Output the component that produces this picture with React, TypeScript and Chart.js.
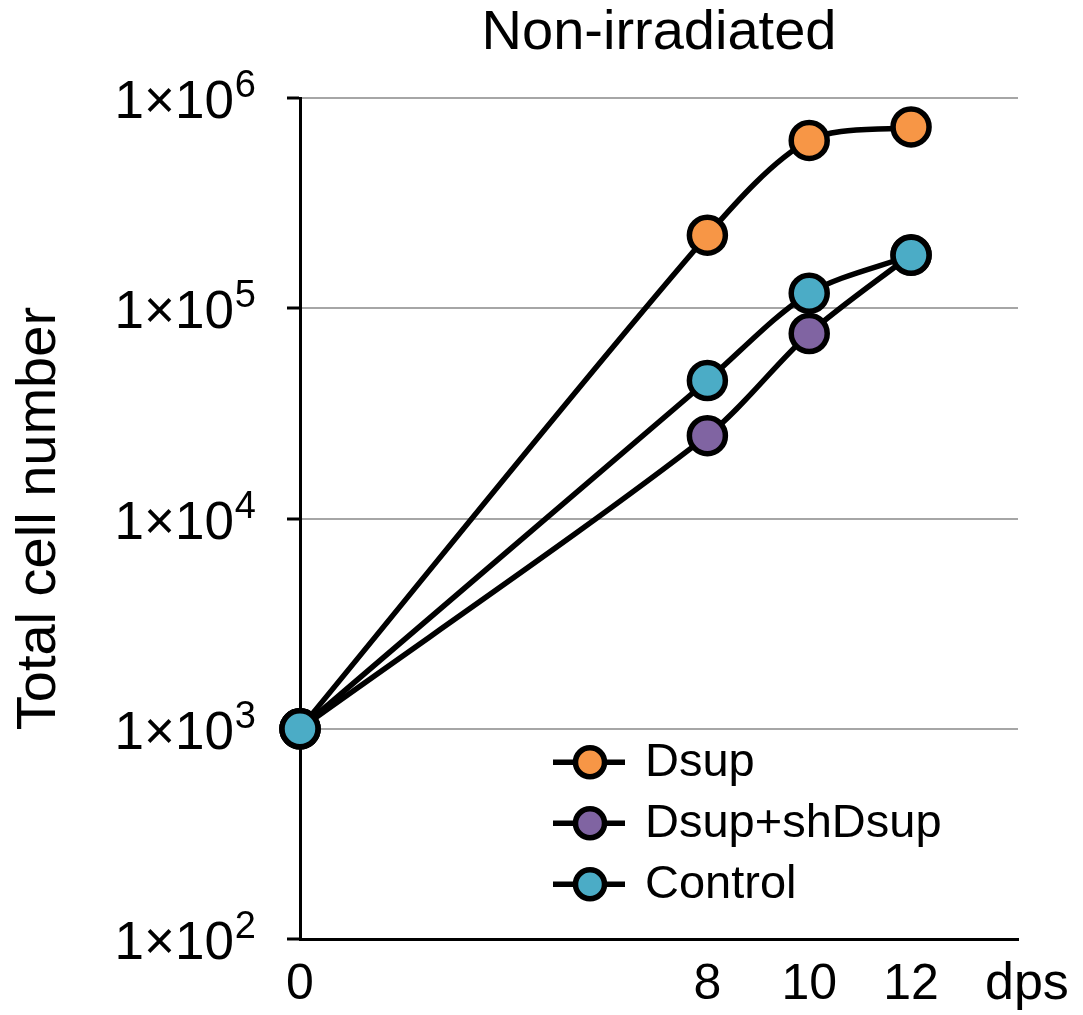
import React, { useEffect, useRef } from "react";
import { Chart, registerables } from "chart.js";

Chart.register(...registerables);

const days = [0, 8, 10, 12];
const xTickValues = [0, 8, 10, 12];
const yTickValues = [100, 1000, 10000, 100000, 1000000];
const seriesNames = ["Dsup", "Dsup+shDsup", "Control"];
const dsupValues = [1000, 223000, 630000, 730000];
const shDsupValues = [1000, 24800, 76000, 180000];
const controlValues = [1000, 45400, 118000, 179000];
const seriesColors = ["#F79646", "#8064A2", "#4BACC6"];
const titleText = "Non-irradiated";
const yTitleText = "Total cell number";
const xUnitText = "dps";

const FONT = "'Liberation Sans', Arial, Helvetica, sans-serif";

const extrasPlugin = {
  id: "extras",
  afterDraw(chart: any) {
    const ctx = chart.ctx;
    const xs = chart.scales.x;
    const ys = chart.scales.y;
    const area = chart.chartArea;
    ctx.save();
    ctx.fillStyle = "#000";

    // y tick labels: 1×10 with superscript exponent
    ys.ticks.forEach((t: any) => {
      const py = ys.getPixelForValue(t.value);
      const exp = String(Math.round(Math.log10(t.value)));
      ctx.font = `38px ${FONT}`;
      ctx.textAlign = "right";
      ctx.textBaseline = "alphabetic";
      const expRight = area.left - 44;
      ctx.fillText(exp, expRight, py - 1);
      const ew = ctx.measureText(exp).width;
      ctx.font = `53px ${FONT}`;
      ctx.fillText("1×10", expRight - ew - 1, py + 20);
    });

    // unit label on the x tick row
    ctx.font = `52px ${FONT}`;
    ctx.textAlign = "left";
    ctx.textBaseline = "middle";
    ctx.fillText(xUnitText, xs.right - 33, xs.top + 16 + 30);

    // legend
    const legendLeft = area.left + 253;
    const legendTop = area.top + 664;
    const rowGap = 61;
    [0, 1, 2].forEach((i) => {
      const y = legendTop + i * rowGap;
      ctx.strokeStyle = "#000";
      ctx.lineWidth = 5.5;
      ctx.beginPath();
      ctx.moveTo(legendLeft, y);
      ctx.lineTo(legendLeft + 72, y);
      ctx.stroke();
      ctx.beginPath();
      ctx.arc(legendLeft + 37, y, 14.5, 0, Math.PI * 2);
      ctx.fillStyle = seriesColors[i];
      ctx.fill();
      ctx.stroke();
      ctx.fillStyle = "#000";
      ctx.font = `47px ${FONT}`;
      ctx.textAlign = "left";
      ctx.textBaseline = "middle";
      ctx.fillText(seriesNames[i], legendLeft + 92, y + 1);
    });
    ctx.restore();
  },
};

export default function App() {
  const ref = useRef<HTMLCanvasElement | null>(null);
  useEffect(() => {
    if (!ref.current) return;
    const valuesList = [dsupValues, shDsupValues, controlValues];
    const orders = [1, 2, 0];
    const chart = new Chart(ref.current, {
      type: "line",
      data: {
        datasets: valuesList.map((vals, i) => ({
          label: seriesNames[i],
          data: days.map((d, j) => ({ x: d, y: vals[j] })),
          borderColor: "#000",
          borderWidth: 5.5,
          backgroundColor: seriesColors[i],
          pointBackgroundColor: seriesColors[i],
          pointBorderColor: "#000",
          pointBorderWidth: 5.5,
          pointRadius: 18,
          pointHoverRadius: 18,
          tension: 0.3,
          clip: false,
          order: orders[i],
        })),
      },
      options: {
        animation: false,
        responsive: false,
        maintainAspectRatio: false,
        layout: { padding: { left: 0, right: 65, top: 0, bottom: 0 } },
        plugins: {
          legend: { display: false },
          tooltip: { enabled: false },
          title: {
            display: true,
            text: titleText,
            fullSize: false,
            color: "#000",
            font: { family: FONT, size: 56, weight: "normal" },
            padding: { top: 0, bottom: 31 },
          },
        },
        scales: {
          x: {
            type: "linear",
            min: 0,
            max: 14.1,
            afterBuildTicks: (axis: any) => {
              axis.ticks = xTickValues.map((v) => ({ value: v }));
            },
            afterFit: (scale: any) => {
              scale.height = 76;
            },
            grid: { display: false, drawTicks: false },
            border: { display: true, color: "#000", width: 3 },
            ticks: {
              color: "#000",
              font: { family: FONT, size: 50 },
              padding: 16,
              maxRotation: 0,
              autoSkip: false,
              callback: (v: any) => String(v),
            },
          },
          y: {
            type: "logarithmic",
            min: 100,
            max: 1000000,
            afterBuildTicks: (axis: any) => {
              axis.ticks = yTickValues.map((v) => ({ value: v }));
            },
            afterFit: (scale: any) => {
              scale.width = 300;
            },
            grid: {
              color: "#a6a6a6",
              lineWidth: 2,
              tickColor: "#000",
              tickLength: 13,
              tickWidth: 3,
            },
            border: { display: true, color: "#000", width: 3 },
            ticks: {
              display: false,
              autoSkip: false,
            },
            title: {
              display: true,
              text: yTitleText,
              color: "#000",
              font: { family: FONT, size: 56, weight: "normal" },
              padding: { top: 6, bottom: 0 },
            },
          },
        },
      },
      plugins: [extrasPlugin],
    } as any);
    return () => chart.destroy();
  }, []);
  return (
    <div style={{ position: "fixed", left: 0, top: 0, width: 1083, height: 1015, background: "#fff" }}>
      <canvas ref={ref} width={1083} height={1015} style={{ width: 1083, height: 1015, display: "block" }} />
    </div>
  );
}
